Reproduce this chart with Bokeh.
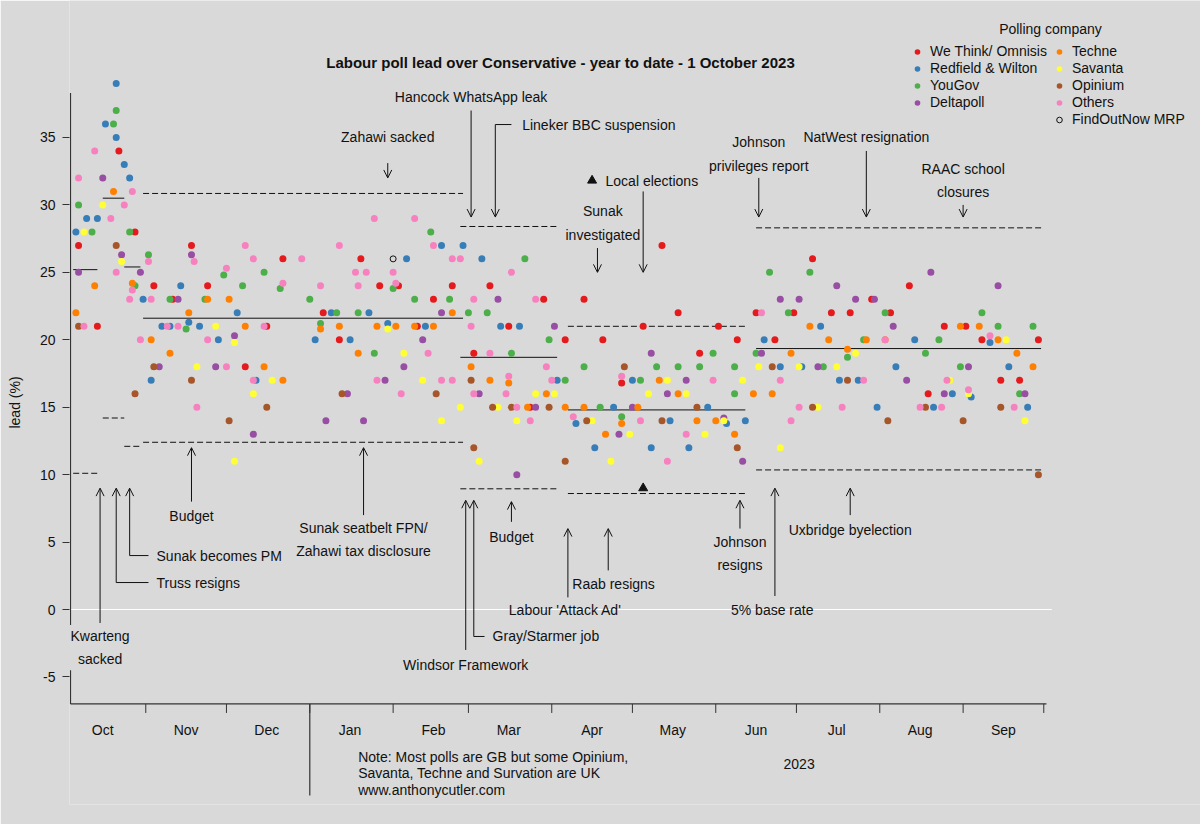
import pandas as pd
from bokeh.plotting import figure
from bokeh.models import (Range1d, LinearAxis, FixedTicker, Arrow, OpenHead, ColumnDataSource,
                          Legend, LegendItem, Label)
from bokeh.core.properties import value
from bokeh.embed import file_html
from bokeh.resources import INLINE

# ---------------------------------------------------------------- poll data
# (fieldwork date, Labour lead over Conservative in points)
WE_THINK = [
    ("2022-10-07", 27), ("2022-10-14", 21), ("2022-10-22", 34), ("2022-10-28", 28),
    ("2022-11-04", 24), ("2022-11-11", 23), ("2022-11-18", 27), ("2022-11-24", 24),
    ("2022-12-08", 18), ("2022-12-16", 21), ("2022-12-22", 26), ("2023-01-06", 22),
    ("2023-01-12", 20), ("2023-01-20", 26), ("2023-01-27", 24), ("2023-02-03", 24),
    ("2023-02-10", 21), ("2023-02-16", 23), ("2023-02-23", 24), ("2023-03-03", 19),
    ("2023-03-09", 24), ("2023-03-16", 21), ("2023-03-24", 15), ("2023-03-29", 23),
    ("2023-04-06", 20), ("2023-04-13", 23), ("2023-04-20", 20), ("2023-04-27", 16.8),
    ("2023-05-05", 21), ("2023-05-12", 27), ("2023-05-18", 22), ("2023-05-26", 19),
    ("2023-06-02", 21), ("2023-06-09", 20), ("2023-06-16", 22), ("2023-06-23", 20),
    ("2023-06-30", 22), ("2023-07-07", 26), ("2023-07-14", 22), ("2023-07-21", 22),
    ("2023-07-29", 23), ("2023-08-05", 22), ("2023-08-12", 24), ("2023-08-19", 16),
    ("2023-08-25", 21), ("2023-09-02", 21), ("2023-09-08", 20), ("2023-09-15", 17),
    ("2023-09-22", 17), ("2023-09-29", 20),
]
REDFIELD = [
    ("2022-10-06", 28), ("2022-10-10", 29), ("2022-10-14", 29), ("2022-10-17", 36),
    ("2022-10-21", 39), ("2022-10-21", 35), ("2022-10-24", 33), ("2022-10-26", 32),
    ("2022-10-31", 23), ("2022-11-03", 17), ("2022-11-07", 21), ("2022-11-10", 21),
    ("2022-11-14", 24), ("2022-11-17", 21.3), ("2022-11-21", 21), ("2022-11-28", 20),
    ("2022-12-05", 22), ("2022-12-12", 17), ("2023-01-03", 20), ("2023-01-09", 22),
    ("2023-01-16", 20), ("2023-01-23", 22), ("2023-01-30", 21.2), ("2023-02-06", 26),
    ("2023-02-13", 21), ("2023-02-19", 27), ("2023-02-27", 27), ("2023-03-06", 26),
    ("2023-03-13", 21), ("2023-03-20", 21), ("2023-04-03", 17), ("2023-04-10", 13.8),
    ("2023-04-17", 12), ("2023-04-24", 15), ("2023-05-01", 17), ("2023-05-08", 12),
    ("2023-05-15", 14), ("2023-05-22", 12), ("2023-05-29", 15), ("2023-06-05", 13.8),
    ("2023-06-12", 14), ("2023-06-19", 20), ("2023-06-25", 18), ("2023-07-03", 18),
    ("2023-07-10", 21), ("2023-07-17", 17), ("2023-07-24", 17), ("2023-07-31", 15),
    ("2023-08-07", 18), ("2023-08-14", 20), ("2023-08-21", 15), ("2023-08-28", 16),
    ("2023-09-04", 15.75), ("2023-09-11", 19.8), ("2023-09-18", 18), ("2023-09-25", 15),
]
YOUGOV = [
    ("2022-10-07", 30), ("2022-10-12", 28), ("2022-10-20", 36), ("2022-10-21", 37),
    ("2022-10-26", 28), ("2022-10-28", 24), ("2022-11-02", 26.3), ("2022-11-10", 23),
    ("2022-11-16", 20.8), ("2022-11-23", 23), ("2022-11-30", 24.8), ("2022-12-07", 24),
    ("2022-12-15", 25), ("2022-12-21", 23.8), ("2023-01-01", 23), ("2023-01-05", 21.2),
    ("2023-01-11", 22), ("2023-01-19", 22), ("2023-01-25", 19), ("2023-02-01", 23.8),
    ("2023-02-09", 23), ("2023-02-15", 28), ("2023-02-22", 23), ("2023-03-01", 22),
    ("2023-03-08", 22), ("2023-03-17", 19), ("2023-03-22", 26), ("2023-03-31", 20),
    ("2023-04-06", 17), ("2023-04-13", 18), ("2023-04-19", 15), ("2023-04-27", 14.3),
    ("2023-05-04", 17), ("2023-05-10", 18), ("2023-05-18", 18), ("2023-05-26", 18),
    ("2023-05-31", 19), ("2023-06-08", 18), ("2023-06-08", 16), ("2023-06-16", 19),
    ("2023-06-21", 25), ("2023-06-28", 22), ("2023-07-06", 25), ("2023-07-11", 18),
    ("2023-07-20", 18.7), ("2023-07-26", 20), ("2023-08-03", 22), ("2023-08-18", 19),
    ("2023-08-23", 20), ("2023-08-31", 18), ("2023-09-08", 22), ("2023-09-14", 21),
    ("2023-09-22", 16), ("2023-09-27", 21),
]
DELTAPOLL = [
    ("2022-10-07", 25), ("2022-10-16", 32), ("2022-10-23", 26.3), ("2022-10-30", 25),
    ("2022-11-06", 18), ("2022-11-13", 23), ("2022-11-18", 26.3), ("2022-11-27", 18),
    ("2022-12-04", 20.3), ("2022-12-11", 13), ("2023-01-07", 14), ("2023-01-15", 16),
    ("2023-01-21", 14), ("2023-01-29", 17), ("2023-02-05", 18), ("2023-02-12", 20),
    ("2023-02-19", 22), ("2023-03-05", 16), ("2023-03-12", 23), ("2023-03-19", 10),
    ("2023-03-26", 15), ("2023-04-02", 21), ("2023-04-26", 13), ("2023-05-01", 15),
    ("2023-05-08", 19), ("2023-05-14", 16), ("2023-05-21", 17), ("2023-06-04", 14.2),
    ("2023-06-11", 11), ("2023-06-18", 19), ("2023-06-25", 23), ("2023-07-02", 23),
    ("2023-07-09", 18), ("2023-07-16", 24), ("2023-07-23", 23), ("2023-07-30", 23),
    ("2023-08-06", 21), ("2023-08-11", 17), ("2023-08-20", 25), ("2023-08-25", 16),
    ("2023-09-03", 18), ("2023-09-14", 24), ("2023-09-24", 16),
]
TECHNE = [
    ("2022-10-06", 22), ("2022-10-13", 24), ("2022-10-20", 31), ("2022-10-27", 24.2),
    ("2022-11-03", 20), ("2022-11-10", 19), ("2022-11-17", 22), ("2022-11-24", 23),
    ("2022-12-02", 23), ("2022-12-08", 21), ("2022-12-15", 18), ("2022-12-22", 17),
    ("2023-01-05", 20.8), ("2023-01-12", 21), ("2023-01-19", 19), ("2023-01-26", 21),
    ("2023-02-02", 21), ("2023-02-09", 21), ("2023-02-16", 21), ("2023-02-23", 22),
    ("2023-03-02", 18), ("2023-03-09", 17), ("2023-03-16", 16.8), ("2023-03-23", 15),
    ("2023-03-30", 16), ("2023-04-06", 15), ("2023-04-13", 15), ("2023-04-21", 13),
    ("2023-04-27", 13.8), ("2023-05-03", 15), ("2023-05-11", 17), ("2023-05-18", 16),
    ("2023-05-25", 14), ("2023-06-01", 14), ("2023-06-08", 13), ("2023-06-15", 16),
    ("2023-06-22", 16), ("2023-06-29", 19), ("2023-07-06", 21), ("2023-07-13", 20),
    ("2023-07-20", 19.3), ("2023-07-27", 20), ("2023-08-03", 20), ("2023-08-31", 21),
    ("2023-09-07", 21), ("2023-09-14", 20), ("2023-09-21", 19), ("2023-09-27", 18),
]
SAVANTA = [
    ("2022-10-09", 28), ("2022-10-16", 30), ("2022-10-23", 25.8), ("2022-11-20", 18),
    ("2022-11-27", 21), ("2022-12-04", 19.8), ("2022-12-04", 11), ("2022-12-11", 16),
    ("2022-12-18", 17), ("2023-01-30", 20.8), ("2023-02-05", 19), ("2023-02-12", 17),
    ("2023-02-19", 14), ("2023-02-26", 15), ("2023-03-05", 11), ("2023-03-12", 15),
    ("2023-03-19", 14), ("2023-03-26", 16), ("2023-04-02", 16), ("2023-04-16", 14),
    ("2023-04-23", 11), ("2023-04-30", 13), ("2023-05-07", 16), ("2023-05-14", 17),
    ("2023-05-21", 16), ("2023-05-28", 13), ("2023-06-04", 14), ("2023-06-11", 17),
    ("2023-06-17", 18), ("2023-06-25", 12), ("2023-07-02", 18), ("2023-07-09", 15),
    ("2023-07-16", 18), ("2023-07-23", 19), ("2023-08-27", 17), ("2023-09-03", 16),
    ("2023-09-17", 20), ("2023-09-24", 14),
]
OPINIUM = [
    ("2022-10-07", 21), ("2022-10-21", 27), ("2022-10-28", 16), ("2022-11-04", 18),
    ("2022-11-18", 17), ("2022-12-02", 14), ("2022-12-16", 15), ("2023-01-13", 16),
    ("2023-02-17", 16), ("2023-03-02", 17), ("2023-03-03", 12), ("2023-03-10", 15),
    ("2023-03-17", 15), ("2023-03-31", 15), ("2023-04-06", 11), ("2023-04-14", 14),
    ("2023-04-28", 18), ("2023-05-12", 14), ("2023-05-25", 15), ("2023-06-09", 12),
    ("2023-06-22", 18), ("2023-07-07", 15), ("2023-07-20", 17), ("2023-08-04", 14),
    ("2023-08-18", 15), ("2023-09-01", 14), ("2023-09-15", 15), ("2023-09-29", 10),
]
OTHERS = [
    ("2022-10-07", 32), ("2022-10-09", 21), ("2022-10-13", 34), ("2022-10-19", 29),
    ("2022-10-21", 25), ("2022-10-24", 30), ("2022-10-26", 23), ("2022-10-27", 31),
    ("2022-10-27", 23.7), ("2022-10-30", 20), ("2022-11-02", 25.8), ("2022-11-03", 23),
    ("2022-11-09", 21), ("2022-11-13", 21), ("2022-11-19", 25.8), ("2022-11-20", 15),
    ("2022-11-24", 20), ("2022-12-01", 25.3), ("2022-12-01", 18), ("2022-12-08", 27),
    ("2022-12-11", 26), ("2022-12-11", 17), ("2022-12-15", 21), ("2022-12-22", 24.2),
    ("2022-12-29", 26), ("2023-01-05", 24), ("2023-01-12", 27), ("2023-01-18", 25),
    ("2023-01-19", 24), ("2023-01-22", 25), ("2023-01-25", 29), ("2023-01-26", 17),
    ("2023-02-01", 25), ("2023-02-02", 24.2), ("2023-02-04", 16), ("2023-02-09", 29),
    ("2023-02-14", 19), ("2023-02-16", 27), ("2023-02-19", 17), ("2023-02-23", 26),
    ("2023-02-23", 17), ("2023-02-26", 26), ("2023-03-02", 21), ("2023-03-03", 23),
    ("2023-03-03", 16), ("2023-03-09", 19), ("2023-03-15", 16), ("2023-03-16", 17.3),
    ("2023-03-17", 25), ("2023-03-19", 15), ("2023-03-24", 14), ("2023-03-26", 23),
    ("2023-03-30", 18), ("2023-04-01", 17), ("2023-04-09", 14.3), ("2023-04-27", 17.3),
    ("2023-05-04", 14), ("2023-05-14", 11), ("2023-05-21", 13), ("2023-05-31", 17),
    ("2023-06-18", 22), ("2023-06-25", 17), ("2023-06-29", 14), ("2023-07-02", 15),
    ("2023-07-18", 15), ("2023-07-26", 17), ("2023-08-03", 20), ("2023-08-16", 15),
    ("2023-08-24", 15), ("2023-08-26", 17), ("2023-09-03", 16.3), ("2023-09-11", 20.3),
    ("2023-09-20", 15),
]
FINDOUTNOW_MRP = [("2023-02-01", 26)]
LOCAL_ELECTIONS = [("2023-05-05", 9)]

# period averages (solid) with upper / lower bands (dashed)
PERIOD_START = ["2022-10-05", "2022-10-16", "2022-10-24", "2022-10-31",
                "2023-02-26", "2023-04-07", "2023-06-16"]
PERIOD_END = ["2022-10-14", "2022-10-24", "2022-10-30", "2023-02-27",
              "2023-04-03", "2023-06-12", "2023-09-30"]
PERIOD_MEAN = [25.2, 30.5, 25.4, 21.6, 18.7, 14.8, 19.35]
PERIOD_UPPER = [None, None, None, 30.85, 28.4, 21.0, 28.3]
PERIOD_LOWER = [10.1, 14.2, 12.1, 12.4, 8.95, 8.6, 10.35]

# event arrows: date, tail value, head value
ARROW_DATE = ["2022-10-15", "2022-10-21", "2022-10-26", "2022-11-18", "2023-01-21",
              "2023-02-28", "2023-03-03", "2023-03-17", "2023-04-07", "2023-04-22",
              "2023-06-10", "2023-06-23", "2023-07-21",
              "2023-01-30", "2023-03-02", "2023-03-11", "2023-04-18", "2023-05-05",
              "2023-06-17", "2023-07-27", "2023-09-01"]
ARROW_FROM = [-1.0, 2.0, 4.0, 8.0, 7.0, -3.0, -2.0, 6.5, 0.9, 2.9, 6.0, 1.0, 7.0,
              33.1, 37.0, 35.96, 26.8, 31.0, 32.0, 34.0, 30.0]
ARROW_TO = [9.0, 9.0, 9.0, 12.0, 12.0, 8.1, 8.1, 8.0, 6.0, 6.0, 8.1, 9.0, 9.0,
            32.0, 29.1, 29.1, 25.0, 25.0, 29.1, 29.1, 29.1]

# elbow connectors from arrow stems to left-aligned captions
ELBOW_FROM = ["2022-10-21", "2022-10-26", "2023-03-03", "2023-03-11"]
ELBOW_TO = ["2022-11-02", "2022-11-02", "2023-03-07", "2023-03-17"]
ELBOW_AT = [2.0, 4.0, -2.0, 35.96]

# event captions
CAPTION_C_DATE = ["2022-11-18", "2023-01-21", "2023-02-28", "2023-03-17", "2023-04-06",
                  "2023-04-24", "2023-06-10", "2023-06-22", "2023-07-21", "2023-01-30",
                  "2023-03-02", "2023-04-20", "2023-06-17", "2023-07-27", "2023-09-01"]
CAPTION_C_Y = [6.9, 5.17, -4.1, 5.4, -0.05, 1.9, 4.15, 0.0, 5.93, 35.0, 37.97, 28.66,
               33.78, 35.0, 31.81]
CAPTION_C_TEXT = ["Budget", "Sunak seatbelt FPN/\nZahawi tax disclosure", "Windsor Framework",
                  "Budget", "Labour 'Attack Ad'", "Raab resigns", "Johnson\nresigns",
                  "5% base rate", "Uxbridge byelection", "Zahawi sacked",
                  "Hancock WhatsApp leak", "Sunak\ninvestigated", "Johnson\nprivileges report",
                  "NatWest resignation", "RAAC school\nclosures"]
CAPTION_L_DATE = ["2022-11-05", "2022-11-05", "2023-03-10", "2023-03-21", "2023-04-21"]
CAPTION_L_Y = [2.0, 4.0, -2.0, 35.96, 31.81]
CAPTION_L_TEXT = ["Truss resigns", "Sunak becomes PM", "Gray/Starmer job",
                  "Lineker BBC suspension", "Local elections"]
LOCAL_KEY = [("2023-04-16", 31.81)]

# axis ticks and footnotes
Y_TICKS = [-5, 0, 5, 10, 15, 20, 25, 30, 35]
MONTH_STARTS = ["2022-11-01", "2022-12-01", "2023-01-01", "2023-02-01", "2023-03-01",
                "2023-04-01", "2023-05-01", "2023-06-01", "2023-07-01", "2023-08-01",
                "2023-09-01", "2023-10-01"]
MONTH_LABEL_DATES = ["2022-10-16", "2022-11-16", "2022-12-16", "2023-01-16", "2023-02-16",
                     "2023-03-16", "2023-04-16", "2023-05-16", "2023-06-16", "2023-07-16",
                     "2023-08-16", "2023-09-16"]
YEAR_BREAK = "2023-01-01"
NOTE_DATE = "2023-01-19"
NOTE_LINES = ["Note: Most polls are GB but some Opinium,",
              "Savanta, Techne and Survation are UK", "www.anthonycutler.com"]
NOTE_Y = [-10.97, -12.09, -13.42]

# ---------------------------------------------------------------- styling
BG = "#d9d9d9"
INK = "#111111"
AXIS = "#333333"
FONT = "Liberation Sans"
COLORS = {
    "We Think/ Omnisis": "#E41A1C", "Redfield & Wilton": "#377EB8", "YouGov": "#4DAF4A",
    "Deltapoll": "#984EA3", "Techne": "#FF7F00", "Savanta": "#FFFF33",
    "Opinium": "#A65628", "Others": "#F781BF",
}
SERIES = [("We Think/ Omnisis", WE_THINK), ("Redfield & Wilton", REDFIELD), ("YouGov", YOUGOV),
          ("Deltapoll", DELTAPOLL), ("Techne", TECHNE), ("Savanta", SAVANTA),
          ("Opinium", OPINIUM), ("Others", OTHERS)]

PX_PER_DAY = 2.6886
FRAME_LEFT, FRAME_RIGHT, FRAME_BOTTOM = 69, 1200, 804
AXIS_X0 = "2022-10-04"
AXIS_X1 = "2023-10-02"
ZERO_X1 = "2023-10-04"
AXIS_Y0, AXIS_Y1 = -7.0, 38.3
TICK_END = -7.67
JAN_LINE_BOTTOM = -13.8
MONTH_LABEL_Y = -8.935
DAY_MS = 86400000.0


def ms(t):
    return pd.Timestamp(t).value / 1e6


def dates(seq):
    return pd.to_datetime(list(seq), format="ISO8601")


def unpack(rows):
    return dates(r[0] for r in rows), [r[1] for r in rows]


x_start_ms = ms(AXIS_X0) - DAY_MS / PX_PER_DAY
x_end_ms = x_start_ms + (FRAME_RIGHT - FRAME_LEFT) / PX_PER_DAY * DAY_MS

p = figure(width=1200, height=824,
           x_range=Range1d(x_start_ms, x_end_ms),
           y_range=Range1d(-14.459, 45.158),
           x_axis_type=None, y_axis_type=None,
           output_backend="svg", toolbar_location=None,
           min_border_left=FRAME_LEFT, min_border_right=0, min_border_top=0,
           min_border_bottom=824 - FRAME_BOTTOM,
           background_fill_color=BG, border_fill_color=BG, outline_line_color=None)

# ---------------------------------------------------------------- y axis
yax = LinearAxis(ticker=FixedTicker(ticks=Y_TICKS), axis_line_color=None,
                 major_tick_out=7, major_tick_in=0, minor_tick_line_color=None,
                 major_tick_line_color=AXIS, major_tick_line_width=1,
                 major_label_standoff=7, major_label_text_font=FONT,
                 major_label_text_font_size="14px", major_label_text_color=INK,
                 major_label_overrides={t: str(t) for t in Y_TICKS},
                 axis_label="lead (%)", axis_label_standoff=14,
                 axis_label_text_font=FONT, axis_label_text_font_size="14px",
                 axis_label_text_font_style="normal", axis_label_text_color=INK)
p.add_layout(yax, "left")

# ---------------------------------------------------------------- date axis
p.segment(x0=dates([AXIS_X0]), y0=[0], x1=dates([ZERO_X1]), y1=[0],
          line_color="white", line_width=1)
p.segment(x0=dates([AXIS_X0, AXIS_X0]), y0=[AXIS_Y1, AXIS_Y0],
          x1=dates([AXIS_X0, AXIS_X1]), y1=[AXIS_Y0, AXIS_Y0],
          line_color=AXIS, line_width=1.2)
ticks_x = dates(MONTH_STARTS)
p.segment(x0=ticks_x, y0=[AXIS_Y0] * len(ticks_x), x1=ticks_x,
          y1=[TICK_END] * len(ticks_x), line_color=AXIS, line_width=1)
p.segment(x0=dates([YEAR_BREAK]), y0=[AXIS_Y0], x1=dates([YEAR_BREAK]),
          y1=[JAN_LINE_BOTTOM], line_color=AXIS, line_width=1.2)
label_x = dates(MONTH_LABEL_DATES)
p.text(x=label_x, y=[MONTH_LABEL_Y] * len(label_x), text=[d.strftime("%b") for d in label_x],
       text_font=value(FONT), text_font_size="14px", text_color=INK,
       text_align="center", text_baseline="middle")
p.text(x=dates(["2023-07-02"]), y=[-11.49], text=[pd.Timestamp(YEAR_BREAK).strftime("%Y")],
       text_font=value(FONT), text_font_size="14px", text_color=INK,
       text_align="center", text_baseline="middle")
p.text(x=dates([NOTE_DATE] * len(NOTE_LINES)), y=NOTE_Y, text=NOTE_LINES,
       text_font=value(FONT), text_font_size="14px", text_color=INK,
       text_align="left", text_baseline="middle")

# ---------------------------------------------------------------- period bands
ps = dates(PERIOD_START)
pe = dates(PERIOD_END)
p.segment(x0=ps, y0=PERIOD_MEAN, x1=pe, y1=PERIOD_MEAN, line_color=INK, line_width=1)
band_x0, band_x1, band_y = [], [], []
for a, b, up, lo in zip(PERIOD_START, PERIOD_END, PERIOD_UPPER, PERIOD_LOWER):
    for v in (up, lo):
        if v is not None:
            band_x0.append(a)
            band_x1.append(b)
            band_y.append(v)
p.segment(x0=dates(band_x0), y0=band_y, x1=dates(band_x1), y1=band_y, line_color=INK,
          line_width=1, line_dash="6 3")

# ---------------------------------------------------------------- polls
renderers = {}
for name, rows in SERIES:
    xs, ys = unpack(rows)
    renderers[name] = p.scatter(x=xs, y=ys, marker="circle", size=7,
                                fill_color=COLORS[name], line_color=None)
fx, fy = unpack(FINDOUTNOW_MRP)
renderers["FindOutNow MRP"] = p.scatter(x=fx, y=fy, marker="circle", size=6,
                                        fill_color=None, line_color=INK, line_width=1)
lx, ly = unpack(LOCAL_ELECTIONS)
p.scatter(x=lx, y=ly, marker="triangle", size=9, fill_color=INK, line_color=INK)
kx, ky = unpack(LOCAL_KEY)
p.scatter(x=kx, y=ky, marker="triangle", size=9, fill_color=INK, line_color=INK)

# ---------------------------------------------------------------- events
arrow_src = ColumnDataSource(dict(x=dates(ARROW_DATE), y0=ARROW_FROM, y1=ARROW_TO))
p.add_layout(Arrow(end=OpenHead(size=8, line_color=INK, line_width=1),
                   x_start="x", y_start="y0", x_end="x", y_end="y1",
                   source=arrow_src, line_color=INK, line_width=1))
p.segment(x0=dates(ELBOW_FROM), y0=ELBOW_AT, x1=dates(ELBOW_TO),
          y1=ELBOW_AT, line_color=INK, line_width=1)

text_style = dict(text_font=value(FONT), text_font_size="14px", text_color=INK,
                  text_baseline="middle", text_line_height=1.45)
p.text(x=dates(CAPTION_C_DATE), y=CAPTION_C_Y, text=CAPTION_C_TEXT,
       text_align="center", **text_style)
p.text(x=dates(CAPTION_L_DATE), y=CAPTION_L_Y, text=CAPTION_L_TEXT,
       text_align="left", **text_style)

p.add_layout(Label(x=ms("2022-10-15"), y=-2.82, text="Kwarteng\nsacked",
                   text_align="center", text_baseline="middle", text_font=FONT,
                   text_font_size="14px", text_color=INK, text_line_height=1.45,
                   background_fill_color=BG, padding=3))

# ---------------------------------------------------------------- title
p.text(x=dates(["2023-04-04T06:00"]), y=[40.56],
       text=["Labour poll lead over Conservative - year to date - 1 October 2023"],
       text_font=value(FONT), text_font_size="15px", text_font_style="bold",
       text_color=INK, text_align="center", text_baseline="middle")

# ---------------------------------------------------------------- legend
p.text(x=dates(["2023-10-03T12:00"]), y=[43.08], text=["Polling company"],
       text_font=value(FONT), text_font_size="14px", text_color=INK,
       text_align="center", text_baseline="middle")
blank = p.scatter(x=[], y=[], size=0, fill_alpha=0, line_alpha=0)
order = ["We Think/ Omnisis", "Redfield & Wilton", "YouGov", "Deltapoll", None,
         "Techne", "Savanta", "Opinium", "Others", "FindOutNow MRP"]
items = [LegendItem(label=n if n else " ", renderers=[renderers[n] if n else blank])
         for n in order]
legend = Legend(items=items, location=(841, FRAME_BOTTOM - 127.5), orientation="vertical",
                nrows=5, label_text_font=FONT, label_text_font_size="14px",
                label_text_color=INK, label_height=17, glyph_height=17, glyph_width=14,
                label_standoff=6, label_width=122, spacing=0, padding=0, margin=0,
                border_line_color=None, background_fill_alpha=0)
p.add_layout(legend)

open("out.html", "w").write(file_html(p, INLINE))
